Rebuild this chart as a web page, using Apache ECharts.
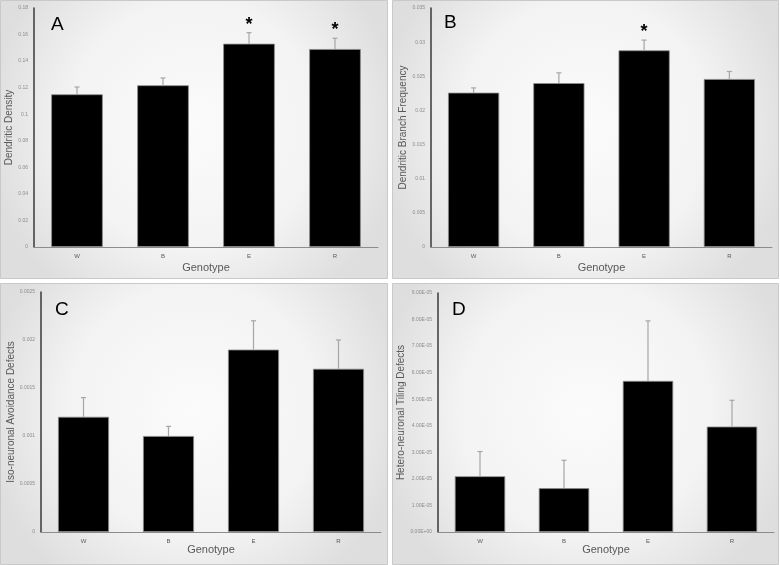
<!DOCTYPE html>
<html>
<head>
<meta charset="utf-8">
<script src="https://cdn.jsdelivr.net/npm/echarts@6/dist/echarts.min.js"></script>
<style>
  html, body { margin: 0; padding: 0; background: #fff; }
  #chart { width: 780px; height: 565px; }
</style>
</head>
<body>
<div id="chart"></div>
<script>
// genotypes on every x axis
const genotypes = ['W', 'B', 'E', 'R']

// A: dendritic density
const densityMean = [0.115, 0.1218, 0.1531, 0.1491]
const densityErr = [0.0055, 0.0055, 0.0083, 0.0081]
const densitySig = [0, 0, 1, 1]

// B: dendritic branch frequency
const branchMean = [0.0226, 0.0240, 0.0288, 0.0246]
const branchErr = [0.0007, 0.0015, 0.0015, 0.0011]
const branchSig = [0, 0, 1, 0]

// C: iso-neuronal avoidance defects
const isoMean = [0.0012, 0.0010, 0.0019, 0.0017]
const isoErr = [0.0002, 0.0001, 0.0003, 0.0003]
const isoSig = [0, 0, 0, 0]

// D: hetero-neuronal tiling defects
const heteroMean = [2.1e-5, 1.65e-5, 5.69e-5, 3.97e-5]
const heteroErr = [0.93e-5, 1.05e-5, 2.26e-5, 0.99e-5]
const heteroSig = [0, 0, 0, 0]

const panels = [
  { letter: 'A', name: 'Dendritic Density', mean: densityMean, err: densityErr, sig: densitySig,
    max: 0.18, interval: 0.02, grid: { left: 34, top: 8, width: 344, height: 239 }, box: [0, 0, 388, 279], letterPos: [51, 15],
    yGap: 11.5, xGap: 15 },
  { letter: 'B', name: 'Dendritic Branch Frequency', mean: branchMean, err: branchErr, sig: branchSig,
    max: 0.035, interval: 0.005, grid: { left: 431, top: 8, width: 341, height: 239 }, box: [392, 0, 387, 279], letterPos: [444, 13],
    yGap: 11, xGap: 15 },
  { letter: 'C', name: 'Iso-neuronal Avoidance Defects', mean: isoMean, err: isoErr, sig: isoSig,
    max: 0.0025, interval: 0.0005, grid: { left: 41, top: 292, width: 340, height: 240 }, box: [0, 283, 388, 282], letterPos: [55, 300],
    yGap: 13.5, xGap: 12 },
  { letter: 'D', name: 'Hetero-neuronal Tiling Defects', mean: heteroMean, err: heteroErr, sig: heteroSig,
    max: 9e-5, interval: 1e-5, grid: { left: 438, top: 293, width: 336, height: 239 }, box: [392, 283, 387, 282], letterPos: [452, 300],
    yGap: 11, xGap: 12,
    fmt: v => {
      if (v === 0) return '0.00E+00'
      const parts = v.toExponential(2).toUpperCase().split('E')
      const exp = parseInt(parts[1], 10)
      const sign = exp < 0 ? '-' : '+'
      return parts[0] + 'E' + sign + String(Math.abs(exp)).padStart(2, '0')
    } }
]

const font = 'Liberation Sans, Arial, sans-serif'

function errRender (params, api) {
  const x = api.value(0)
  const y = api.value(1)
  const e = api.value(2)
  const star = api.value(3)
  const base = api.coord([x, y])
  const top = api.coord([x, y + e])
  const children = [
    { type: 'line', shape: { x1: base[0], y1: base[1], x2: top[0], y2: top[1] }, style: { stroke: '#a6a6a6', lineWidth: 1.2 } },
    { type: 'line', shape: { x1: top[0] - 2.5, y1: top[1], x2: top[0] + 2.5, y2: top[1] }, style: { stroke: '#a6a6a6', lineWidth: 1.2 } }
  ]
  if (star) {
    children.push({
      type: 'text',
      style: { text: '*', x: top[0], y: top[1] + 1, align: 'center', verticalAlign: 'bottom', font: 'bold 18px ' + font, fill: '#000' }
    })
  }
  return { type: 'group', children: children }
}

const grids = []
const xAxes = []
const yAxes = []
const series = []
const graphics = []

panels.forEach((p, i) => {
  grids.push(p.grid)
  graphics.push({
    type: 'rect', z: -10, silent: true,
    shape: { x: p.box[0] + 0.5, y: p.box[1] + 0.5, width: p.box[2] - 1, height: p.box[3] - 1 },
    style: {
      fill: { type: 'radial', x: 0.5, y: 0.45, r: 0.75,
        colorStops: [{ offset: 0, color: '#fbfbfb' }, { offset: 0.6, color: '#f3f3f3' }, { offset: 1, color: '#dedede' }] },
      stroke: '#c9c9c9', lineWidth: 1
    }
  })
  graphics.push({
    type: 'text', left: p.letterPos[0], top: p.letterPos[1],
    style: { text: p.letter, font: '19px ' + font, fill: '#000' }
  })
  xAxes.push({
    type: 'category', gridIndex: i, data: genotypes,
    name: 'Genotype', nameLocation: 'middle', nameGap: p.xGap,
    nameTextStyle: { fontFamily: font, fontSize: 11, color: '#595959' },
    axisLine: { lineStyle: { color: '#8c8c8c', width: 1 } },
    axisTick: { show: false },
    axisLabel: { fontFamily: font, fontSize: 6, color: '#595959', margin: 6 }
  })
  yAxes.push({
    type: 'value', gridIndex: i, min: 0, max: p.max, interval: p.interval,
    name: p.name, nameLocation: 'middle', nameRotate: 90, nameGap: p.yGap,
    nameTextStyle: { fontFamily: font, fontSize: 10, color: '#595959' },
    axisLine: { show: true, lineStyle: { color: '#3a3a3a', width: 1.5 } },
    axisTick: { show: false },
    splitLine: { show: false },
    axisLabel: { fontFamily: font, fontSize: 5, color: '#8c8c8c', margin: 6, formatter: p.fmt }
  })
  series.push({
    type: 'bar', xAxisIndex: i, yAxisIndex: i,
    data: p.mean, barCategoryGap: '40%',
    itemStyle: { color: '#000', borderColor: '#8c8c8c', borderWidth: 0.8 }
  })
  series.push({
    type: 'custom', xAxisIndex: i, yAxisIndex: i, z: 5,
    renderItem: errRender,
    data: genotypes.map((g, k) => [k, p.mean[k], p.err[k], p.sig[k]])
  })
})

const myChart = echarts.init(document.getElementById('chart'))
myChart.setOption({
  animation: false,
  backgroundColor: '#fff',
  grid: grids,
  xAxis: xAxes,
  yAxis: yAxes,
  series: series,
  graphic: graphics
})
</script>
</body>
</html>
